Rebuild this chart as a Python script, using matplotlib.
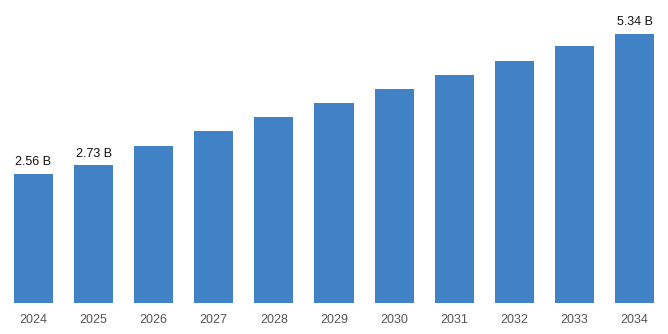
import matplotlib
matplotlib.use("Agg")
import matplotlib.pyplot as plt

years = [2024, 2025, 2026, 2027, 2028, 2029, 2030, 2031, 2032, 2033, 2034]
values = [2.56, 2.73, 3.11, 3.41, 3.69, 3.97, 4.25, 4.52, 4.80, 5.10, 5.34]
labels = {2024: "2.56 B", 2025: "2.73 B", 2034: "5.34 B"}

plt.rcParams["font.family"] = ["Liberation Sans", "DejaVu Sans"]

fig = plt.figure(figsize=(6.68, 3.34), dpi=100)
ax = fig.add_axes([0, 0.0928, 1, 0.9072])

bars = ax.bar(years, values, width=0.65, color="#4181c6")
for b, y, v in zip(bars, years, values):
    if y in labels:
        ax.annotate(labels[y], (b.get_x() + b.get_width() / 2, v),
                    xytext=(0, 4), textcoords="offset points",
                    ha="center", va="bottom", fontsize=9, color="#111111")

ax.set_xlim(years[0] - 0.557, years[-1] + 0.557)
ax.set_ylim(0, 6.01)
ax.set_xticks(years)
ax.set_xticklabels([str(y) for y in years])
ax.tick_params(axis="x", length=0, pad=8, labelsize=9, labelcolor="#555555")
ax.set_yticks([])
for s in ax.spines.values():
    s.set_visible(False)

fig.savefig("out.png", dpi=100)
